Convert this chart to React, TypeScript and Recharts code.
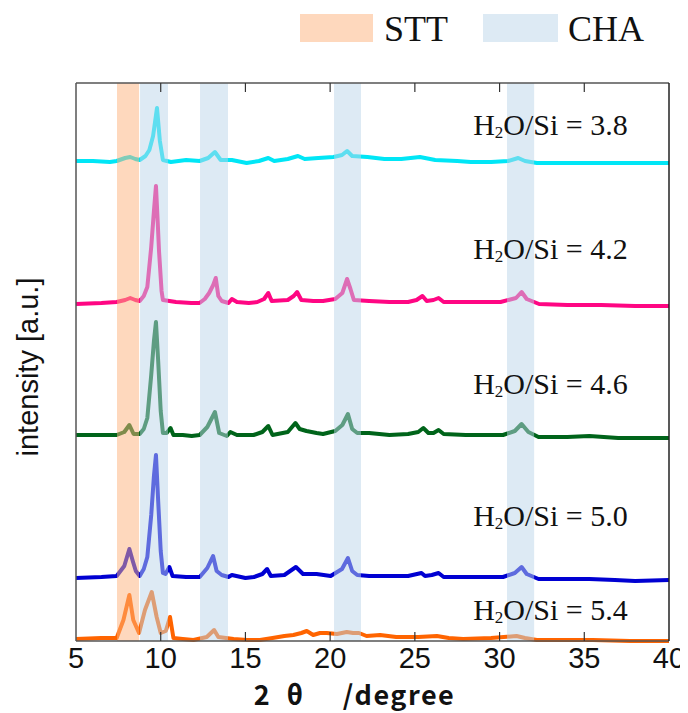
import { LineChart, Line, XAxis, YAxis, ReferenceArea, ReferenceDot } from 'recharts'

// 2θ (deg) / intensity (a.u., stacked with offsets as in the figure)
const xTicks = [5, 10, 15, 20, 25, 30, 35, 40]

const ratio38 = [
  [5, 480], [6, 480], [7, 479], [7.4, 480], [7.9, 483], [8.2, 484], [8.5, 482], [8.76, 481],
  [9.1, 485], [9.33, 491], [9.55, 505], [9.78, 533], [9.95, 500], [10.13, 481], [10.6, 479],
  [11.5, 481], [12.3, 480], [12.8, 483], [13.2, 489], [13.54, 481], [14.2, 481], [15.07, 478],
  [15.8, 480], [16.35, 483], [16.7, 480], [17.5, 482], [18.1, 485], [18.5, 482], [19.3, 483],
  [20.2, 484], [20.7, 486], [21.0, 490], [21.3, 485], [22.2, 484], [23.2, 482], [24.2, 482],
  [25.3, 484], [26.2, 481], [27.5, 480], [28.3, 479], [29.5, 479], [30.5, 480], [31.1, 483],
  [31.5, 480], [32.2, 478], [34, 478], [36, 478], [38, 478], [40, 478],
]

const ratio42 = [
  [5, 337], [6.5, 338], [7.4, 339], [7.9, 341], [8.2, 343], [8.5, 341], [8.76, 340], [9.0, 345],
  [9.21, 354], [9.44, 394], [9.6, 430], [9.72, 455], [9.82, 420], [9.9, 390], [10.05, 350],
  [10.13, 341], [10.9, 339], [11.8, 338], [12.29, 338], [12.6, 342], [12.86, 348], [13.1, 356],
  [13.25, 363], [13.4, 345], [13.6, 340], [14.0, 338], [14.2, 342], [14.5, 339], [15.2, 338],
  [15.7, 339], [16.1, 342], [16.35, 348], [16.55, 340], [17.5, 341], [17.85, 345], [18.05, 349],
  [18.3, 341], [19.0, 340], [19.58, 340], [20.3, 342], [20.72, 348], [21.0, 362], [21.2, 352],
  [21.4, 341], [22.3, 340], [23.5, 339], [24.6, 339], [25.1, 341], [25.45, 345], [25.7, 340],
  [26.1, 341], [26.4, 343], [26.7, 339], [28, 339], [30.06, 339], [30.97, 343], [31.3, 349],
  [31.6, 342], [32.33, 337], [34, 336], [36, 336], [38, 335], [40, 335],
]

const ratio46 = [
  [5, 206], [6.5, 206], [7.4, 206], [7.85, 209], [8.15, 216], [8.4, 207], [8.76, 207], [9.0, 212],
  [9.21, 223], [9.44, 266], [9.6, 300], [9.72, 319], [9.85, 280], [10.0, 230], [10.13, 208],
  [10.35, 208], [10.58, 213], [10.75, 206], [11.3, 206], [11.83, 205], [12.3, 206], [12.75, 214],
  [13.2, 229], [13.45, 208], [13.9, 205], [14.11, 209], [14.5, 206], [15.48, 206], [16.0, 209],
  [16.35, 215], [16.6, 206], [17.5, 209], [17.95, 218], [18.2, 212], [18.6, 210], [19.2, 208],
  [19.58, 207], [20.3, 210], [20.72, 216], [21.05, 227], [21.3, 212], [21.6, 208], [22.3, 208],
  [23.5, 206], [24.6, 207], [25.2, 209], [25.5, 213], [25.8, 208], [26.1, 208], [26.4, 211],
  [26.7, 207], [28, 206], [30.2, 206], [30.9, 210], [31.3, 217], [31.7, 209], [32.3, 204],
  [34, 204], [35.3, 205], [37, 203], [40, 203],
]

const ratio50 = [
  [5, 63], [6.5, 64], [7.4, 65], [7.85, 75], [8.15, 92], [8.35, 80], [8.53, 70], [8.76, 65],
  [9.0, 72], [9.21, 84], [9.44, 126], [9.6, 165], [9.72, 186], [9.85, 140], [10.0, 90],
  [10.13, 68], [10.28, 67], [10.51, 74], [10.7, 65], [11.5, 64], [12.3, 64], [12.75, 73],
  [13.09, 85], [13.3, 70], [13.6, 66], [14.0, 64], [14.2, 66], [15.0, 63], [15.5, 64], [16.0, 67],
  [16.28, 72], [16.5, 65], [17.3, 66], [17.98, 74], [18.4, 67], [19.2, 67], [20.03, 65],
  [20.7, 72], [21.05, 83], [21.3, 70], [21.6, 66], [22.3, 65], [23.5, 65], [24.6, 65],
  [25.39, 68], [25.6, 65], [26.0, 66], [26.4, 68], [26.7, 64], [28, 64], [30.2, 64], [30.9, 68],
  [31.3, 74], [31.6, 67], [32.3, 62], [34, 62], [35.3, 62], [36.8, 61], [38, 60], [40, 61],
]

const ratio54 = [
  [5, 2], [6.5, 3], [7.4, 3], [7.8, 21], [8.15, 46], [8.38, 21], [8.72, 8], [9.07, 31],
  [9.47, 49], [9.76, 24], [10.0, 8], [10.3, 10], [10.55, 24], [10.75, 3], [11.3, 2], [11.93, 1],
  [12.72, 4], [13.15, 11], [13.4, 4], [14.3, 2], [15.1, 1], [15.86, 1], [16.6, 3], [17.3, 5],
  [17.83, 6], [18.3, 8], [18.62, 10], [19.0, 6], [19.4, 8], [19.8, 8], [20.4, 7], [20.98, 9],
  [21.35, 8], [21.7, 8], [22.15, 5], [22.95, 6], [23.9, 4], [25.2, 4], [26.3, 5], [27.0, 3],
  [27.85, 2], [29.5, 3], [31.0, 5], [31.5, 3], [32.2, 1], [34, 1], [35.5, 1], [37.7, 0], [40, 0],
]

const sttBands = [[7.42, 8.72]]
const chaBands = [[8.78, 10.43], [12.32, 13.97], [20.23, 21.82], [30.44, 32.04]]

const ratios = ['3.8', '4.2', '4.6', '5.0', '5.4']
const labelAnchors = [[28.44, 506], [28.44, 382], [28.44, 247], [28.44, 115], [28.44, 21]]

const toPoints = (rows: number[][]) => rows.map(([x, y]) => ({ x, y }))

const series = [
  { ratio: ratios[0], data: toPoints(ratio38), color: '#00e6f6' },
  { ratio: ratios[1], data: toPoints(ratio42), color: '#ff0683' },
  { ratio: ratios[2], data: toPoints(ratio46), color: '#00641a' },
  { ratio: ratios[3], data: toPoints(ratio50), color: '#0000d2' },
  { ratio: ratios[4], data: toPoints(ratio54), color: '#ff6400' },
]

// layout
const CHART_W = 680
const CHART_H = 705
const MARGIN = { top: 75, right: 19, bottom: 0, left: 0 }
const X_AXIS_H = 72
const Y_AXIS_W = 68
const PLOT_X = MARGIN.left + Y_AXIS_W
const PLOT_Y = MARGIN.top
const PLOT_H = CHART_H - MARGIN.top - MARGIN.bottom - X_AXIS_H
const PLOT_W = CHART_W - MARGIN.left - MARGIN.right - Y_AXIS_W
const TICK_LEN = 9

const SERIF = '"Palatino Linotype", "Book Antiqua", Palatino, "Liberation Serif", serif'
const SANS = 'Arial, "Liberation Sans", sans-serif'
const STT_FILL = '#fdb17b'
const CHA_FILL = '#bbd5e9'
const AXIS = '#555'

function RatioLabel({ viewBox, ratio }: any) {
  const { x, y } = viewBox
  return (
    <text x={x} y={y} fontFamily={SERIF} fontSize={30} fill="#111">
      H
      <tspan fontSize={17} dy={3}>2</tspan>
      <tspan dy={-3}>O/Si = {ratio}</tspan>
    </text>
  )
}

function YTitle({ viewBox }: any) {
  const { x, y, height } = viewBox
  const cx = x + 20
  const cy = y + height / 2 + 5
  return (
    <text x={cx} y={cy} transform={`rotate(-90, ${cx}, ${cy})`} textAnchor="middle"
      dominantBaseline="central" fontFamily={SANS} fontSize={29} fill="#111">
      intensity [a.u.]
    </text>
  )
}

function XTitle({ viewBox }: any) {
  const { x, y, width } = viewBox
  return (
    <text x={x + width / 2 - 18} y={y + 64} textAnchor="middle" style={{ whiteSpace: 'pre' }}
      fontFamily='"Noto Sans CJK JP", "DejaVu Sans", sans-serif' fontWeight="bold" fontSize={27}
      letterSpacing={1.5} fill="#111">
      {'2  θ     /degree'}
    </text>
  )
}

function PhaseLegend() {
  return (
    <svg width={CHART_W} height={60} style={{ position: 'absolute', left: 0, top: 0 }}>
      <rect x={292} y={6} width={73} height={28} fill={STT_FILL} fillOpacity={0.5} />
      <text x={376} y={33} fontFamily={SERIF} fontSize={36} fill="#111">STT</text>
      <rect x={475} y={6} width={75} height={28} fill={CHA_FILL} fillOpacity={0.5} />
      <text x={560} y={33} fontFamily={SERIF} fontSize={36} fill="#111">CHA</text>
    </svg>
  )
}

// top/right frame edges and inward ticks, laid over the plot box
function PlotFrame() {
  const lo = xTicks[0]
  const hi = xTicks[xTicks.length - 1]
  const px = (t: number) => PLOT_X + ((t - lo) / (hi - lo)) * PLOT_W
  const bottom = PLOT_Y + PLOT_H
  return (
    <svg width={CHART_W} height={CHART_H} style={{ position: 'absolute', left: 0, top: 0, pointerEvents: 'none' }}>
      <line x1={PLOT_X} x2={PLOT_X + PLOT_W} y1={PLOT_Y} y2={PLOT_Y} stroke={AXIS} strokeWidth={1.5} />
      <line x1={PLOT_X + PLOT_W} x2={PLOT_X + PLOT_W} y1={PLOT_Y} y2={bottom} stroke="#222" strokeWidth={1.5} />
      {xTicks.slice(1, -1).map((t) => (
        <g key={t}>
          <line x1={px(t)} x2={px(t)} y1={bottom} y2={bottom - TICK_LEN} stroke="#333" strokeWidth={1.2} />
          <line x1={px(t)} x2={px(t)} y1={PLOT_Y} y2={PLOT_Y + TICK_LEN} stroke="#333" strokeWidth={1.2} />
        </g>
      ))}
    </svg>
  )
}

export default function App() {
  return (
    <div style={{ position: 'relative', width: CHART_W, height: CHART_H }}>
      <LineChart width={CHART_W} height={CHART_H} margin={MARGIN}>
        <XAxis dataKey="x" type="number" domain={[5, 40]} ticks={xTicks} height={X_AXIS_H}
          tickLine={false} tickSize={0} tickMargin={6}
          axisLine={{ stroke: AXIS, strokeWidth: 1.5 }}
          tick={{ fontFamily: SANS, fontSize: 29, fill: '#111' }}
          label={(p: any) => <XTitle {...p} />} />
        <YAxis type="number" domain={[0, PLOT_H]} width={Y_AXIS_W} tick={false} tickLine={false}
          axisLine={{ stroke: AXIS, strokeWidth: 1.5 }} label={(p: any) => <YTitle {...p} />} />

        {series.map((s) => (
          <Line key={s.ratio} data={s.data} dataKey="y" type="linear"
            stroke={s.color} strokeWidth={4} strokeLinejoin="round" dot={false} activeDot={false}
            isAnimationActive={false} />
        ))}

        {sttBands.map(([a, b]) => (
          <ReferenceArea key={`stt-${a}`} x1={a} x2={b} fill={STT_FILL} fillOpacity={0.5} stroke="none" zIndex={450} />
        ))}
        {chaBands.map(([a, b]) => (
          <ReferenceArea key={`cha-${a}`} x1={a} x2={b} fill={CHA_FILL} fillOpacity={0.5} stroke="none" zIndex={450} />
        ))}

        {series.map((s, i) => (
          <ReferenceDot key={`lbl-${s.ratio}`} x={labelAnchors[i][0]} y={labelAnchors[i][1]} r={0}
            fill="none" stroke="none" label={(p: any) => <RatioLabel {...p} ratio={s.ratio} />} />
        ))}
      </LineChart>
      <PlotFrame />
      <PhaseLegend />
    </div>
  )
}
